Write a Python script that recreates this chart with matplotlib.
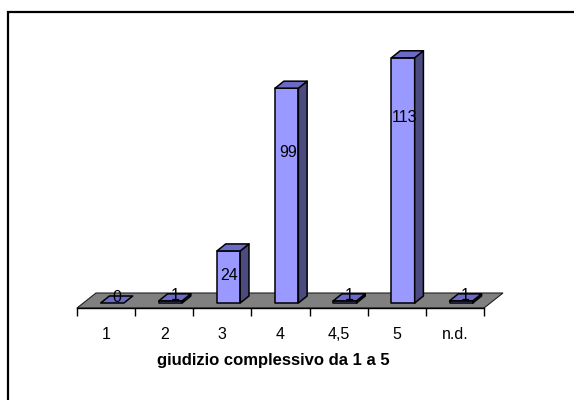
import matplotlib
matplotlib.use("Agg")
import matplotlib.pyplot as plt
from matplotlib.patches import Polygon
from matplotlib.lines import Line2D

plt.rcParams['font.family'] = ['Liberation Sans', 'DejaVu Sans']

# Data
categories = ["1", "2", "3", "4", "4,5", "5", "n.d."]
counts = [0, 1, 24, 99, 1, 113, 1]
axis_title = "giudizio complessivo da 1 a 5"

# Figure / layout (pixels at dpi 100)
W, H, DPI = 574, 400, 100
fig = plt.figure(figsize=(W / DPI, H / DPI), dpi=DPI)
fig.patch.set_facecolor("white")

ymax = 120
px_per_unit = 2.17
ax_left, ax_right = 77, 484          # front edge of the floor
ax_base = 308                        # y pixel (from top) of the floor front edge
ax = fig.add_axes([ax_left / W, (H - ax_base) / H,
                   (ax_right - ax_left) / W, ymax * px_per_unit / H])
ax.set_xlim(0, len(categories))
ax.set_ylim(0, ymax)
ax.patch.set_visible(False)
for side in ("left", "right", "top"):
    ax.spines[side].set_visible(False)
ax.spines["bottom"].set_linewidth(1.0)
ax.set_yticks([])

# pixel -> data conversion for the oblique depth direction
sx = (ax_right - ax_left) / len(categories)
sy = px_per_unit
def dpx(px, py):
    return px / sx, py / sy

# Floor
floor_depth = dpx(19, 15)
floor = Polygon([(0, 0), (len(categories), 0),
                 (len(categories) + floor_depth[0], floor_depth[1]),
                 (floor_depth[0], floor_depth[1])],
                closed=True, facecolor="#808080", edgecolor="#202020",
                linewidth=0.8, clip_on=False, zorder=1)
ax.add_patch(floor)

# Bars (oblique 3-D columns)
front_c, top_c, side_c = "#9999FF", "#6B6BC6", "#4B4B80"
bar_w = 0.4
shift = dpx(6.25, 5)     # bars sit behind the front edge of the floor
depth = dpx(8.75, 7)     # thickness of each column
label_frac = [0.5, 0.5, 0.53, 0.70, 0.5, 0.755, 0.5]

for i, v in enumerate(counts):
    x0 = i + 0.5 - bar_w / 2 + shift[0]
    x1 = x0 + bar_w
    y0 = shift[1]
    y1 = y0 + v
    dx, dy = depth
    kw = dict(closed=True, edgecolor="black", linewidth=1.1,
              joinstyle="round", clip_on=False, zorder=3)
    if v > 0:
        ax.add_patch(Polygon([(x0, y0), (x1, y0), (x1, y1), (x0, y1)],
                             facecolor=front_c, **kw))
        ax.add_patch(Polygon([(x1, y0), (x1 + dx, y0 + dy),
                              (x1 + dx, y1 + dy), (x1, y1)],
                             facecolor=side_c, **kw))
    ax.add_patch(Polygon([(x0, y1), (x1, y1), (x1 + dx, y1 + dy),
                          (x0 + dx, y1 + dy)],
                         facecolor=top_c, **kw))
    # value label
    if v <= 1:
        lx = (x0 + x1) / 2 + dx / 2
        ly = y0 + v / 2 + dy / 2 + dpx(0, 2.5)[1]
    else:
        lx = (x0 + x1) / 2 + dpx(1, 0)[0]
        ly = y0 + v * label_frac[i]
    ax.text(lx, ly, str(v), ha="center", va="center", fontsize=11.5,
            color="black", zorder=5, clip_on=False)

# Category axis: boundary ticks and centred labels
ax.set_xticks(range(len(categories) + 1))
ax.set_xticklabels([])
ax.tick_params(axis="x", which="major", direction="out", length=5.8,
               width=1.0, color="black")
ax.set_xticks([i + 0.5 for i in range(len(categories))], minor=True)
ax.set_xticklabels(categories, minor=True, fontsize=11.5)
ax.tick_params(axis="x", which="minor", length=0, pad=14)

fig.text(273.5 / W, (H - 365) / H, axis_title, ha="center", va="baseline",
         fontsize=12, fontweight="bold")

# Chart frame
fig.add_artist(Line2D([8 / W, 8 / W, 1.0], [0.0, (H - 12) / H, (H - 12) / H],
                      transform=fig.transFigure, color="black",
                      linewidth=1.6, solid_joinstyle="miter"))

fig.savefig("out.png", dpi=DPI, facecolor="white")
